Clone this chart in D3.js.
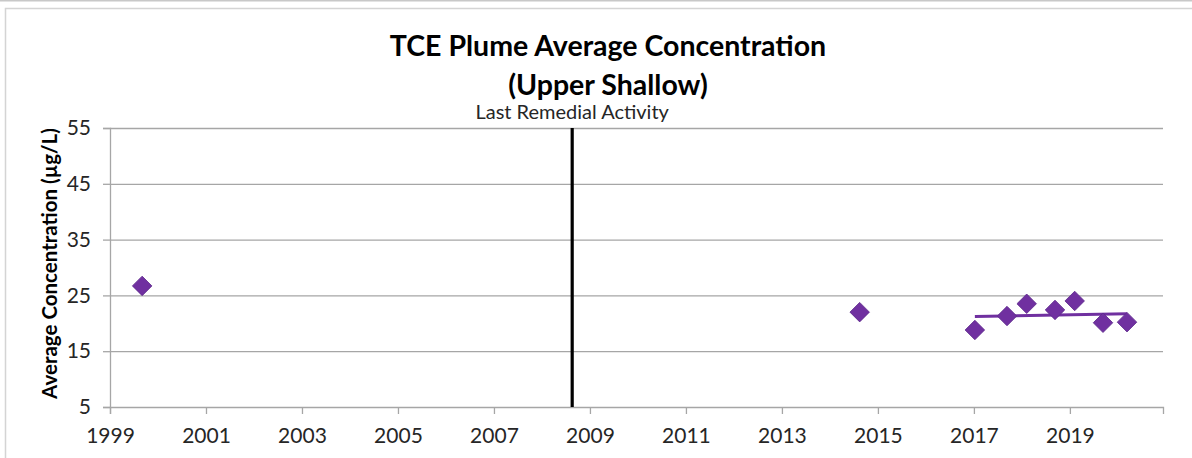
<!DOCTYPE html>
<html>
<head>
<meta charset="utf-8">
<script src="https://cdn.jsdelivr.net/npm/d3@7"></script>
<style>
  body { margin: 0; background: #fff; }
  svg { font-family: Lato, "Open Sans", sans-serif; }
</style>
</head>
<body>
<svg id="chart" width="1192" height="458"></svg>
<script>
// data
const sampleYears = [1999.67, 2014.62, 2017.02, 2017.69, 2018.1, 2018.69, 2019.1, 2019.69, 2020.19];
const sampleConc = [26.7, 22.0, 18.8, 21.3, 23.5, 22.4, 24.0, 20.1, 20.2];
const trendFrom = 2017; // trend line fitted to the recent samples
const remedialYear = 2008.63;
const remedialLabel = "Last Remedial Activity";
const yTicks = [5, 15, 25, 35, 45, 55];
const xTicks = [1999, 2001, 2003, 2005, 2007, 2009, 2011, 2013, 2015, 2017, 2019];
const titleLines = ["TCE Plume Average Concentration", "(Upper Shallow)"];
const yLabel = "Average Concentration (µg/L)";

const svg = d3.select("#chart"),
    margin = { top: 128, right: 29, bottom: 51, left: 110 },
    width = +svg.attr("width") - margin.left - margin.right,
    height = +svg.attr("height") - margin.top - margin.bottom,
    purple = "#7030a0",
    gridColor = "#a6a6a6";

// outer frame of the chart object
svg.append("line").attr("x1", 0).attr("x2", 1192).attr("y1", 0.5).attr("y2", 0.5)
    .style("stroke", "#c8c8c8").style("stroke-width", 2);
svg.append("path").attr("d", "M5.5,458V8.5H1192")
    .style("stroke", "#d4d4d4").style("fill", "none").style("stroke-width", 1.5);

const g = svg.append("g").attr("transform", "translate(" + margin.left + "," + margin.top + ")");

const x = d3.scaleLinear().domain([1999, 2020.94]).range([0, width]),
    y = d3.scaleLinear().domain([5, 55]).range([height, 0]);

// horizontal gridlines
g.selectAll(".grid").data(yTicks.slice(1)).enter().append("line")
    .attr("x1", 0).attr("x2", width)
    .attr("y1", d => y(d) + 0.5).attr("y2", d => y(d) + 0.5)
    .style("stroke", gridColor).style("stroke-width", 1.3);

// axes
const yAxis = g.append("g")
    .call(d3.axisLeft(y).tickValues(yTicks).tickSize(7).tickPadding(12));
const xAxis = g.append("g").attr("transform", "translate(0," + height + ")")
    .call(d3.axisBottom(x).tickValues(xTicks).tickFormat(d3.format("d")).tickSize(7).tickPadding(14));

[yAxis, xAxis].forEach(function (a) {
    a.select(".domain").style("stroke", gridColor).style("stroke-width", 1.3);
    a.selectAll(".tick line").style("stroke", gridColor).style("stroke-width", 1.3);
    a.selectAll("text").style("font-family", "Lato, sans-serif").style("font-size", "21px").style("fill", "#262626");
});

// remedial activity marker
g.append("line")
    .attr("x1", x(remedialYear)).attr("x2", x(remedialYear))
    .attr("y1", y(55)).attr("y2", y(5))
    .style("stroke", "#000").style("stroke-width", 3.2);
svg.append("text")
    .attr("x", margin.left + x(remedialYear)).attr("y", 119)
    .attr("text-anchor", "middle")
    .style("font-size", "20px").style("fill", "#262626")
    .text(remedialLabel);

// linear trend line for the recent samples
const recent = sampleYears.map((d, i) => [d, sampleConc[i]]).filter(d => d[0] >= trendFrom);
const mx = d3.mean(recent, d => d[0]), my = d3.mean(recent, d => d[1]);
const slope = d3.sum(recent, d => (d[0] - mx) * (d[1] - my)) / d3.sum(recent, d => (d[0] - mx) ** 2);
const trendX = d3.extent(recent, d => d[0]);
const lineTrend = d3.line()
    .x(function (d) { return x(d); })
    .y(function (d) { return y(my + slope * (d - mx)); });
g.append("path").datum(trendX).attr("d", lineTrend)
    .style("stroke", purple).style("stroke-width", 3).style("fill", "none");

// diamond markers
const diamond = d3.symbol().type(d3.symbolSquare).size(190);
g.selectAll(".pt").data(sampleYears).enter().append("path")
    .attr("d", diamond)
    .attr("transform", (d, i) => "translate(" + x(d) + "," + y(sampleConc[i]) + ") rotate(45)")
    .style("fill", purple).style("stroke", "#5f2a8c").style("stroke-width", 0.8);

// titles
svg.append("g").selectAll("text").data(titleLines).enter().append("text")
    .attr("x", 608).attr("y", (d, i) => 56 + i * 39)
    .attr("text-anchor", "middle")
    .style("font-size", "28.5px").style("font-weight", "bold").style("fill", "#000")
    .text(d => d);

svg.append("text")
    .attr("transform", "translate(57," + (margin.top + height / 2 - 4) + ") rotate(-90)")
    .attr("text-anchor", "middle")
    .style("font-size", "20.5px").style("font-weight", "bold").style("fill", "#000")
    .text(yLabel);
</script>
</body>
</html>
